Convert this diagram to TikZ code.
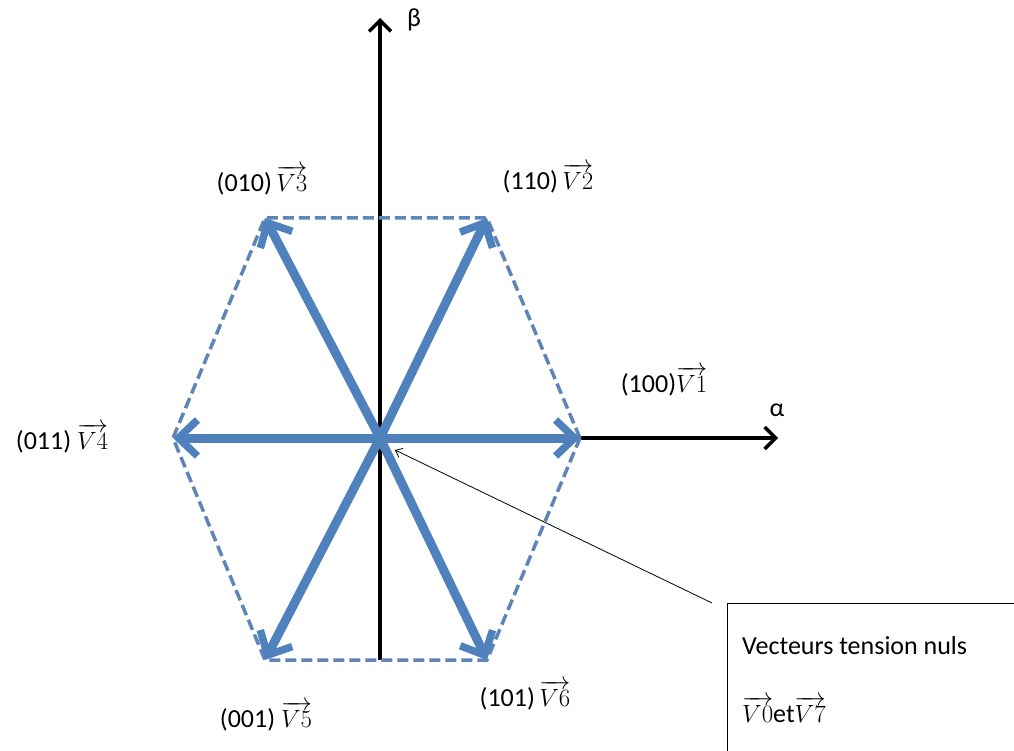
\documentclass[tikz,border=0pt]{standalone}
\usepackage{fontspec}
\setmainfont{Carlito}
\usepackage{amsmath}
\usetikzlibrary{arrows.meta,positioning,calc}
\definecolor{vecblue}{HTML}{4F81BD}
\definecolor{hexblue}{HTML}{5F84B8}

\begin{document}
\begin{tikzpicture}[x=1pt,y=-1pt,
    axis/.style={black,line width=3.5pt,-{Straight Barb[length=11pt,width=22pt,line width=3.5pt]}},
    vec/.style={vecblue,line width=9pt,-{Straight Barb[length=19pt,width=36pt,line width=7.5pt]}},
    hexside/.style={hexblue,line width=3.5pt,dash pattern=on 11pt off 5pt},
    lbl/.style={font=\fontsize{26}{30}\selectfont,inner sep=0pt}]
  \useasboundingbox (0,0) rectangle (1014,751);
  % space vector points
  \coordinate (O) at (380,438);
  \coordinate (v1) at (580,438);
  \coordinate (v2) at (487,218);
  \coordinate (v3) at (265,218);
  \coordinate (v4) at (173,438);
  \coordinate (v5) at (265,660);
  \coordinate (v6) at (487,660);
  \coordinate (bbot) at (380,660);
  \coordinate (btop) at (380,18);
  \coordinate (aend) at (778,438);
  % axes
  \draw[axis] (bbot) -- (btop);
  \draw[axis] (O) -- (aend);
  % hexagon
  \draw[hexside] (v1) -- (v2) -- (v3) -- (v4) -- (v5) -- (v6) -- cycle;
  % vectors
  \foreach \k in {1,...,6} {
    \draw[vec] (O) -- (v\k);
  }
  % labels
  \node[lbl] (l3) at (262,180) {(010)\,$\overrightarrow{V3}$};
  \node[lbl] (l2) at (548,178) {(110)\,$\overrightarrow{V2}$};
  \node[lbl] (l1) at (664,381) {(100)$\overrightarrow{V1}$};
  \node[lbl] (l4) at (62,438) {(011)~$\overrightarrow{V4}$};
  \node[lbl] (l5) at (266,716) {(001)~$\overrightarrow{V5}$};
  \node[lbl] (l6) at (525,695) {(101)\,$\overrightarrow{V6}$};
  \node[lbl] (alpha) at (777,410) {α};
  \node[lbl] (beta) at (414,20) {β};
  % zero vectors box
  \draw[black,line width=0.8pt] (1030,603) -- (727,603) -- (727,770);
  \node[lbl,anchor=west] (nuls) at (742,646) {Vecteurs tension nuls};
  \node[lbl,anchor=west] (zero) at (742,710) {$\overrightarrow{V0}$et$\overrightarrow{V7}$};
  \coordinate (ptr) at (712,603);
  \draw[black,line width=0.8pt,-{Straight Barb[length=6pt,width=10pt]}] (ptr) -- ($(O)+(15,12)$);
\end{tikzpicture}
\end{document}
